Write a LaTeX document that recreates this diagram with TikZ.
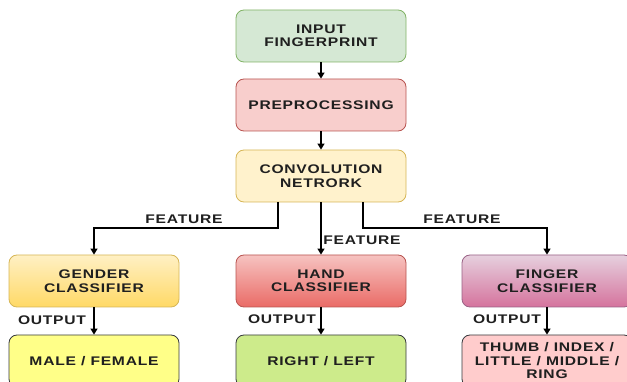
\documentclass[tikz,border=0pt]{standalone}
\usepackage{fontspec}
\setmainfont{Liberation Sans}[FakeStretch=1.25,LetterSpace=6]
\usetikzlibrary{arrows.meta}

\definecolor{txtc}{HTML}{1F1F1F}
\definecolor{inpfill}{HTML}{D5E8D4}
\definecolor{inpline}{HTML}{82B366}
\definecolor{prefill}{HTML}{F8CECC}
\definecolor{preline}{HTML}{B85450}
\definecolor{convfill}{HTML}{FFF2CC}
\definecolor{convline}{HTML}{D6B656}
\definecolor{gentop}{HTML}{FFF0C4}
\definecolor{genbot}{HTML}{FFD966}
\definecolor{handtop}{HTML}{F6C3C1}
\definecolor{handbot}{HTML}{EA6B66}
\definecolor{fingtop}{HTML}{E6D0DE}
\definecolor{fingbot}{HTML}{D5739D}
\definecolor{fingline}{HTML}{996185}
\definecolor{mffill}{HTML}{FFFF88}
\definecolor{rlfill}{HTML}{CDEB8B}
\definecolor{timfill}{HTML}{FFCCCC}
\definecolor{outline}{HTML}{36393D}

\begin{document}
\begin{tikzpicture}[x=1pt,y=-1pt,
	every node/.style={font=\bfseries\fontsize{12.5}{13.5}\selectfont,text=txtc},
	box/.style={draw,rounded corners=8pt,minimum width=170pt,minimum height=52pt,align=center,line width=0.8pt},
	flow/.style={-{Triangle[length=6pt,width=7pt]},line width=1.2pt}]
	\useasboundingbox (0,0) rectangle (627,382);
	\clip (0,0) rectangle (627,382);

	\node[box,fill=inpfill,draw=inpline] at (321,36) (inp) {INPUT\\FINGERPRINT};
	\node[box,fill=prefill,draw=preline] at (321,105) (pre) {PREPROCESSING};
	\node[box,fill=convfill,draw=convline] at (321,176) (conv) {CONVOLUTION\\NETRORK};

	\node[box,top color=gentop,bottom color=genbot,draw=convline] at (94,281) (gen) {GENDER\\CLASSIFIER};
	\node[box,top color=handtop,bottom color=handbot,draw=preline] at (321,281) (hand) {HAND\\CLASSIFIER};
	\node[box,top color=fingtop,bottom color=fingbot,draw=fingline] at (547,281) (fing) {FINGER\\CLASSIFIER};

	\node[box,fill=mffill,draw=outline] at (94,361) (mf) {MALE / FEMALE};
	\node[box,fill=rlfill,draw=outline] at (321,361) (rl) {RIGHT / LEFT};
	\node[box,fill=timfill,draw=outline] at (547,361) (tim) {THUMB / INDEX /\\LITTLE / MIDDLE /\\RING};

	\coordinate (fl) at (278,228);
	\coordinate (fr) at (363,228);

	\draw[flow] (inp) -- (pre);
	\draw[flow] (pre) -- (conv);
	\draw[flow] (conv.south -| fl) -- (fl) -| (gen);
	\draw[flow] (conv) -- (hand);
	\draw[flow] (conv.south -| fr) -- (fr) -| (fing);
	\draw[flow] (gen) -- (mf);
	\draw[flow] (hand) -- (rl);
	\draw[flow] (fing) -- (tim);

	\node at (184,219) (featl) {FEATURE};
	\node at (362,240) (featm) {FEATURE};
	\node at (462,219) (featr) {FEATURE};
	\node at (52,320) (outl) {OUTPUT};
	\node at (282,319) (outm) {OUTPUT};
	\node at (507,319) (outr) {OUTPUT};
\end{tikzpicture}
\end{document}
